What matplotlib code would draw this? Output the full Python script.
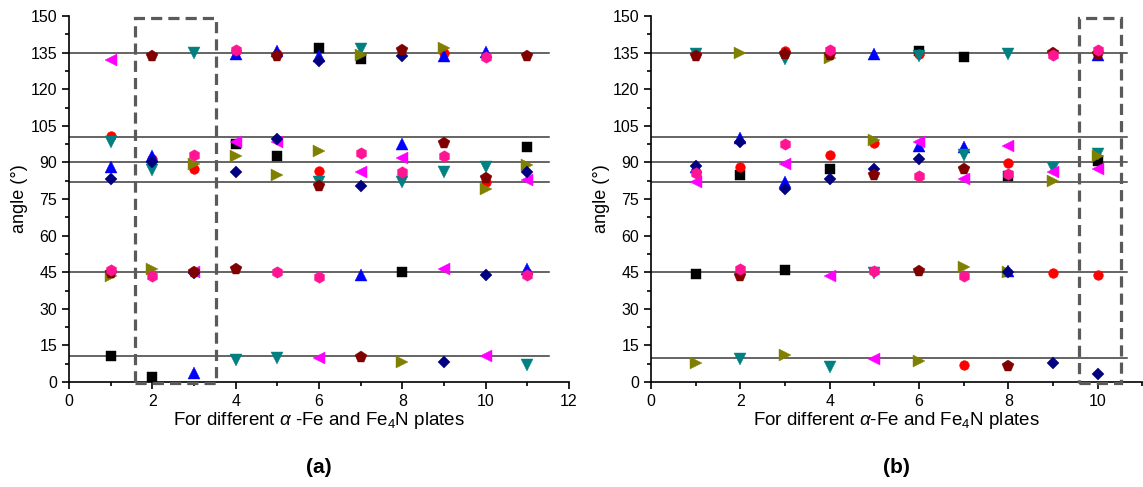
import matplotlib
matplotlib.use("Agg")
import matplotlib.pyplot as plt
import numpy as np
from matplotlib.patches import Rectangle
from matplotlib.ticker import MultipleLocator

plt.rcParams['font.family'] = ['Liberation Sans', 'DejaVu Sans']
plt.rcParams['mathtext.fontset'] = 'custom'
plt.rcParams['mathtext.rm'] = 'Liberation Sans'
plt.rcParams['mathtext.it'] = 'Liberation Sans:italic'

nan = np.nan

# panel (a): plates 1..11, one value per plate for each series (nan = no point)
plates_a = np.arange(1, 12)
a_square   = [10.8, 2.2, nan, 97.5, 92.7, 137, 132.5, 45, nan, nan, 96.2]
a_circle   = [101, 91.5, 87.5, 135.5, 134.5, 86.5, nan, nan, 135, 82, 44.5]
a_up       = [88, 92.5, 3.5, 134.5, 135.5, 133.5, 44, 97.5, 133.5, 135.3, 46.5]
a_down     = [98.5, 87, 134.7, 9, 9.7, 82, 136.3, 82, 86, 88.2, 7]
a_left     = [132, nan, 45.2, 98.5, 98.5, 10, 86, 92, 46.5, 10.8, 82.8]
a_right    = [43.5, 46.5, 89.5, 92.7, 85, 94.5, 134, 8.3, 137, 79.3, 89]
a_diamond  = [83, 90, 44.8, 86, 99.8, 131.5, 80.5, 133.5, 8.3, 44, 86]
a_pentagon = [44.5, 133.5, 45, 46.3, 133.5, 80.5, 10.4, 136, 98, 83.7, 133.7]
a_hexagon  = [46, 43.3, 93, 136, 45.2, 43, 93.8, 86, 92.5, 133.2, 44]
a_ref = [135, 100.5, 90, 82, 45, 10.5]

# panel (b): plates 1..10
plates_b = np.arange(1, 11)
b_square   = [44.2, 84.7, 46, 87.5, nan, 135.5, 133.3, 84.5, nan, 90.5]
b_circle   = [134.5, 88, 135.5, 93, 98, 134.5, 7, 89.6, 44.8, 44]
b_up       = [88, 100, 82, nan, 134.3, 96.7, 96.5, 45.5, nan, 134]
b_down     = [134.5, 9.4, 132.5, 6.3, 44.5, 133.7, 93, 134.3, 87.8, 93.3]
b_left     = [82, nan, 89.5, 43.5, 9.4, 98.5, 83, 96.7, 86, 87.5]
b_right    = [7.7, 135, 11, 133, 99.3, 8.6, 47, 45, 82.4, 92.5]
b_diamond  = [88.5, 98.2, 79, 83, 87.5, 91.3, nan, 45.2, 7.9, 3.2]
b_pentagon = [133.7, 43.3, 134.5, 134, 85, 45.5, 87.5, 6.7, 135, 134.5]
b_hexagon  = [85.5, 46.5, 97.5, 136, 45.5, 84.6, 43.3, 85.2, 134, 136]
b_ref = [135, 100.5, 90, 82, 45, 10]

styles = [('s', 'black', 6.6), ('o', 'red', 7), ('^', 'blue', 8), ('v', '#008080', 8),
          ('<', 'magenta', 8), ('>', '#808000', 8), ('D', '#000080', 6.3),
          ('p', '#800000', 8.5), ('h', '#FF1493', 8.3)]

fig = plt.figure(figsize=(11.43, 4.87), dpi=100)
ax1 = fig.add_axes([0.0604, 0.2156, 0.4374, 0.7515])
ax2 = fig.add_axes([0.5696, 0.2156, 0.4299, 0.7515])


def panel(ax, x, series, ref, xmax, lines_end, box, xlabel, tag):
    for r in ref:
        ax.plot([0, lines_end], [r, r], color='#3a3a3a', lw=1.1, zorder=1)
    for ys, (m, c, ms) in zip(series, styles):
        ax.plot(x, ys, linestyle='none', marker=m, color=c, markersize=ms,
                markeredgewidth=0.3, zorder=3)
    rect = Rectangle((box[0], -0.6), box[1] - box[0], 149.6, fill=False,
                     edgecolor='#5a5a5a', lw=2.3, linestyle=(0, (3.5, 1.9)),
                     clip_on=False, zorder=4)
    ax.add_patch(rect)
    ax.set_xlim(0, xmax)
    ax.set_ylim(0, 150)
    ax.xaxis.set_major_locator(MultipleLocator(2))
    ax.xaxis.set_minor_locator(MultipleLocator(1))
    ax.yaxis.set_major_locator(MultipleLocator(15))
    ax.yaxis.set_minor_locator(MultipleLocator(7.5))
    ax.spines['top'].set_visible(False)
    ax.spines['right'].set_visible(False)
    ax.spines['left'].set_linewidth(1.2)
    ax.spines['bottom'].set_linewidth(1.2)
    ax.tick_params(which='major', direction='out', length=5, width=1.2, labelsize=11.5)
    ax.tick_params(which='minor', direction='out', length=3, width=1.2)
    ax.set_ylabel('angle (°)', fontsize=13, labelpad=2)
    ax.set_xlabel(xlabel, fontsize=13.5, labelpad=1)
    bb = ax.get_position()
    fig.text((bb.x0 + bb.x1) / 2, 0.041, tag, ha='center', va='center',
             fontsize=15, fontweight='bold')


panel(ax1, plates_a,
      [a_square, a_circle, a_up, a_down, a_left, a_right, a_diamond, a_pentagon, a_hexagon],
      a_ref, 12, 11.52, (1.58, 3.53),
      r'For different $\alpha$ -Fe and Fe$_4$N plates', '(a)')
panel(ax2, plates_b,
      [b_square, b_circle, b_up, b_down, b_left, b_right, b_diamond, b_pentagon, b_hexagon],
      b_ref, 11, 10.65, (9.58, 10.52),
      r'For different $\alpha$-Fe and Fe$_4$N plates', '(b)')

fig.savefig('out.png', dpi=100)
